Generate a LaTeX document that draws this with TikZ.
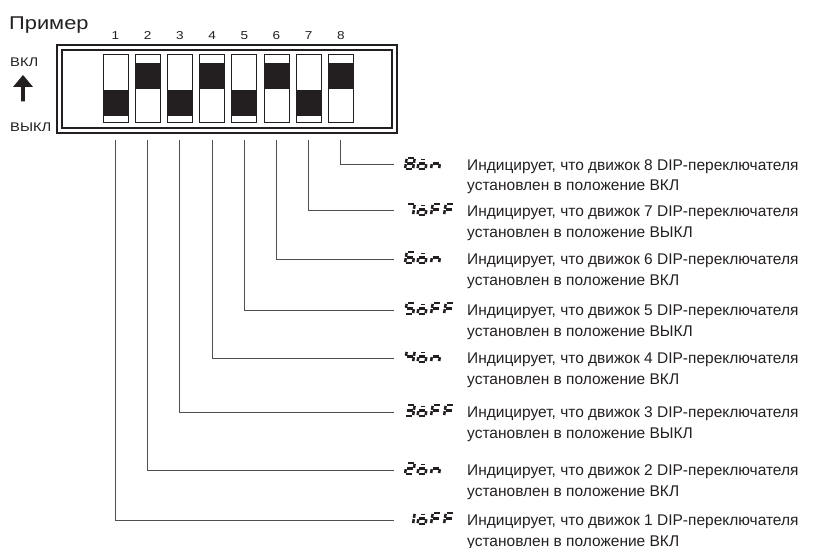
\documentclass[tikz,border=0pt]{standalone}
\usepackage{fontspec}
\setmainfont{Liberation Sans}
\newfontfamily\widesans{Liberation Sans}[FakeStretch=1.18]
\definecolor{ink}{HTML}{231F20}
\definecolor{wire}{HTML}{505050}
\pgfkeys{
 /seg/a/.code={\draw[seg] (1,-11)--(7,-11);},
 /seg/b/.code={\draw[seg] (8,-10.1)--(8,-6.2);},
 /seg/c/.code={\draw[seg] (8,-4.8)--(8,-0.9);},
 /seg/d/.code={\draw[seg] (1,0)--(7,0);},
 /seg/e/.code={\draw[seg] (0,-4.8)--(0,-0.9);},
 /seg/f/.code={\draw[seg] (0,-10.1)--(0,-6.2);},
 /seg/g/.code={\draw[seg] (1,-5.5)--(7,-5.5);},
 /seg/o/.code={\draw[seg,line width=1.7pt] (1.8,-9.6)--(6.2,-9.6);},
}
\newcommand\segchar[3]{%
 \begin{scope}[shift={(#1,#2)},xslant=0.16]
  \edef\myseglist{#3}%
  \foreach \s in \myseglist {\pgfkeys{/seg/\s}}
 \end{scope}}
\begin{document}
\begin{tikzpicture}[x=1pt,y=-1pt,
  seg/.style={line width=2.5pt,draw=ink},
  txt/.style={font=\fontsize{15.5}{18}\selectfont,text=ink,anchor=base west,inner sep=0pt},
  numl/.style={font=\widesans\fontsize{11.5}{13}\selectfont,text=ink,inner sep=0pt,anchor=base},
  side/.style={font=\widesans\fontsize{12.5}{14}\selectfont,text=ink,inner sep=0pt,anchor=base west},
  swbox/.style={draw=ink,line width=1pt,minimum width=25pt,minimum height=68pt,inner sep=0pt},
  frame/.style={draw=ink,line width=1.1pt},
  wire/.style={draw=wire,line width=1pt}]
\useasboundingbox (0,0) rectangle (822,548);
\node[side,font=\widesans\fontsize{18.5}{20}\selectfont] (title) at (9,30) {Пример};
\node[side] (on) at (10,66.5) {ВКЛ};
\node[side] (off) at (10,131.7) {ВЫКЛ};
\fill[ink] (23,75) -- (33,87) -- (24.8,87) -- (24.8,101.5) -- (21.2,101.5) -- (21.2,87) -- (13,87) -- cycle;
\node[frame,minimum width=340pt,minimum height=88pt,inner sep=0pt] (outer) at (227,89) {};
\node[frame,minimum width=330pt,minimum height=78pt,inner sep=0pt] (inner) at (227,89) {};
% switches: 1 = up (on), 0 = down (off)
\foreach \i/\st in {1/0,2/1,3/0,4/1,5/0,6/1,7/0,8/1}{
  \pgfmathsetmacro\cx{115.5+32.2*(\i-1)}
  \ifnum\st=1 \fill[ink] (\cx-12.5,63.3) rectangle (\cx+12.5,89.3);
  \else \fill[ink] (\cx-12.5,90) rectangle (\cx+12.5,115.7); \fi
  \node[swbox] (sw\i) at (\cx,89) {};
  \node[numl] (n\i) at (\cx,39.7) {\i};
  \coordinate (s\i) at (\cx,140);
}
% rows
\foreach \i/\ly in {8/165,7/211,6/259,5/310,4/358,3/412,2/470,1/520}{
  \coordinate (g\i) at (394,\ly);
  \draw[wire] (s\i) |- (g\i);
}
\foreach \i/\ly/\segs/\st/\pos in {
  8/165/{a,b,c,d,e,f,g}/ВКЛ/1,
  7/211/{a,b,c}/ВЫКЛ/0,
  6/259/{a,f,g,e,c,d}/ВКЛ/1,
  5/310/{a,f,g,c,d}/ВЫКЛ/0,
  4/358/{f,g,b,c}/ВКЛ/1,
  3/412/{a,b,g,c,d}/ВЫКЛ/0,
  2/470/{a,b,g,e,d}/ВКЛ/1,
  1/520/{b,c}/ВКЛ/0}{
  \segchar{405}{\ly+4}{\segs}
  \segchar{417.5}{\ly+4}{o,g,c,d,e}
  \ifnum\pos=1
    \segchar{431}{\ly+4}{g,e,c}
  \else
    \segchar{431}{\ly+4}{a,f,g,e}
    \segchar{444}{\ly+4}{a,f,g,e}
  \fi
  \node[txt] (t\i) at (467,\ly+5.5) {Индицирует, что движок \i{} DIP-переключателя};
  \node[txt] (u\i) at (467,\ly+26) {установлен в положение \st};
}
\end{tikzpicture}
\end{document}
